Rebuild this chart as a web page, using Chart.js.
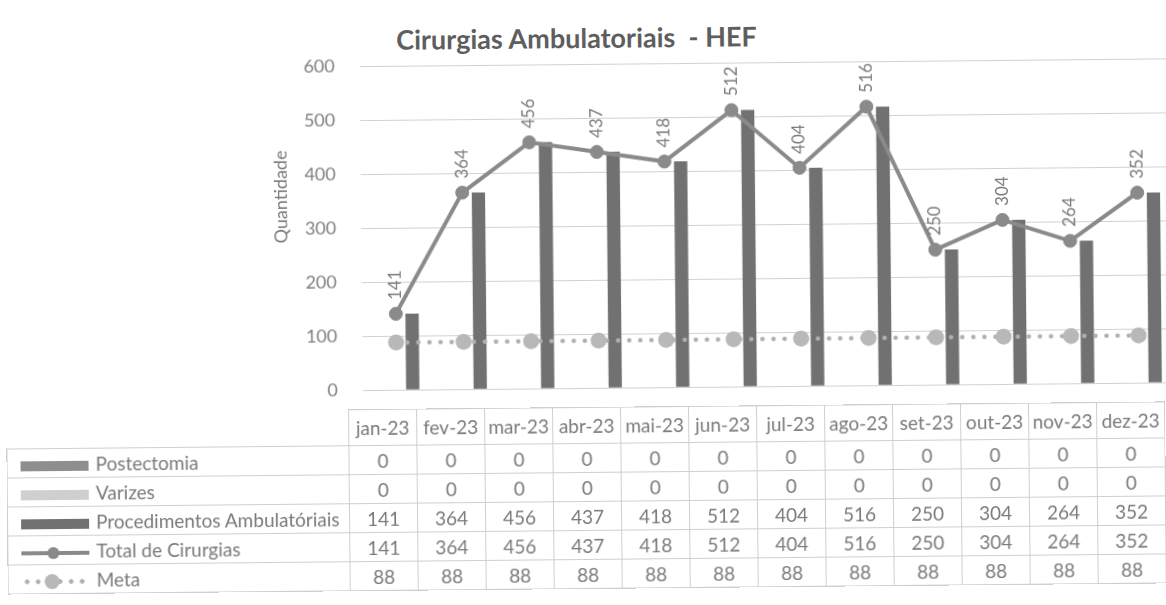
<!DOCTYPE html>
<html>
<head>
<meta charset="utf-8">
<script src="https://cdn.jsdelivr.net/npm/chart.js@4.4.1/dist/chart.umd.min.js"></script>
<style>
    body { margin: 0; width: 1166px; height: 605px; overflow: hidden; background: #fff; font-family: Lato, sans-serif; }
    #pagina { position: absolute; left: 0; top: 0; width: 1166px; height: 605px; transform: rotate(-0.55deg); transform-origin: 583px 302px; }
    #titulo { position: absolute; top: 21px; left: 329px; width: 500px; text-align: center; white-space: pre; font-size: 27px; font-weight: bold; color: #5e5e5e; }
    #eixo { position: absolute; left: 231px; top: 183px; width: 100px; text-align: center; transform: rotate(-90deg); font-size: 18px; color: #7a7a7a; }
    #cirurgias { position: absolute; left: 0; top: 0; }
    #tabela { position: absolute; left: 5px; top: 407px; border-collapse: collapse; table-layout: fixed; font-size: 19px; color: #7a7a7a; }
    #tabela td { border: 1px solid #cfcfcf; text-align: center; padding: 0; height: 28px; white-space: nowrap; }
    #tabela tr.cab td { height: 35px; }
    #tabela td.vazio { border: none; }
    #tabela td.nome { text-align: left; padding-left: 13px; }
    .chave { display: inline-block; width: 68px; height: 10px; margin-right: 7px; vertical-align: middle; position: relative; }
    .linha { height: 4px; background: #8a8a8a; }
    .linha i { position: absolute; left: 26px; top: -4px; width: 12px; height: 12px; border-radius: 50%; background: #8a8a8a; }
    .pontos { height: 5px; background: radial-gradient(circle, #b0b0b0 2px, transparent 2.5px) 0 0 / 11px 5px repeat-x; }
    .pontos i { position: absolute; left: 23px; top: -5px; width: 15px; height: 15px; border-radius: 50%; background: #b8b8b8; }
</style>
</head>
<body>
<div id="pagina">
    <div id="titulo">Cirurgias Ambulatoriais  - HEF</div>
    <canvas id="cirurgias" width="1180" height="424"></canvas>
    <div id="eixo">Quantidade</div>
    <table id="tabela"></table>
</div>
<script>
const meses = ['jan-23', 'fev-23', 'mar-23', 'abr-23', 'mai-23', 'jun-23', 'jul-23', 'ago-23', 'set-23', 'out-23', 'nov-23', 'dez-23'];
const postectomia = [0, 0, 0, 0, 0, 0, 0, 0, 0, 0, 0, 0];
const varizes = [0, 0, 0, 0, 0, 0, 0, 0, 0, 0, 0, 0];
const procedimentos = [141, 364, 456, 437, 418, 512, 404, 516, 250, 304, 264, 352];
const totalCirurgias = [141, 364, 456, 437, 418, 512, 404, 516, 250, 304, 264, 352];
const meta = [88, 88, 88, 88, 88, 88, 88, 88, 88, 88, 88, 88];
const yTicks = [0, 100, 200, 300, 400, 500, 600];

// rotulos verticais em cima da linha do total
const rotulos = {
    id: 'rotulos',
    afterDatasetsDraw(chart) {
        const ctx = chart.ctx;
        const pts = chart.getDatasetMeta(3).data;
        ctx.save();
        ctx.fillStyle = '#7a7a7a';
        ctx.font = '17px Lato';
        ctx.textAlign = 'left';
        ctx.textBaseline = 'middle';
        pts.forEach((p, i) => {
            ctx.save();
            ctx.translate(p.x, p.y - 14);
            ctx.rotate(-Math.PI / 2);
            ctx.fillText(String(totalCirurgias[i]), 0, 0);
            ctx.restore();
        });
        ctx.restore();
    }
};

new Chart(document.getElementById('cirurgias'), {
    type: 'bar',
    data: {
        labels: meses,
        datasets: [
            { label: 'Postectomia', data: postectomia, backgroundColor: '#8e8e8e', order: 1, categoryPercentage: 0.72, barPercentage: 0.82 },
            { label: 'Varizes', data: varizes, backgroundColor: '#cfcfcf', order: 1, categoryPercentage: 0.72, barPercentage: 0.82 },
            { label: 'Procedimentos Ambulatóriais', data: procedimentos, backgroundColor: '#717171', order: 1, categoryPercentage: 0.72, barPercentage: 0.82 },
            {
                type: 'line', label: 'Total de Cirurgias', data: totalCirurgias, order: 0,
                borderColor: '#8a8a8a', borderWidth: 4, tension: 0,
                pointRadius: 6.5, pointBackgroundColor: '#8a8a8a', pointBorderColor: '#8a8a8a', pointBorderWidth: 1
            },
            {
                type: 'line', label: 'Meta', data: meta, order: 0,
                borderColor: '#b0b0b0', borderWidth: 4.5, borderDash: [0.1, 11], borderCapStyle: 'round',
                pointRadius: 8, pointBackgroundColor: '#b8b8b8', pointBorderWidth: 0
            }
        ]
    },
    options: {
        responsive: false,
        animation: false,
        layout: { padding: { top: 64, left: 267, right: 7, bottom: 4 } },
        plugins: {
            legend: { display: false },
            tooltip: { enabled: false }
        },
        scales: {
            x: { display: false },
            y: {
                min: 0, max: 600,
                afterFit(scale) { scale.width = 95; },
                afterBuildTicks(scale) { scale.ticks = yTicks.map(v => ({ value: v })); },
                border: { display: false },
                grid: { color: '#d2d2d2', lineWidth: 1, drawTicks: false },
                ticks: { color: '#808080', font: { family: 'Lato', size: 18 }, padding: 25 }
            }
        }
    },
    plugins: [rotulos]
});

// tabela de dados em baixo do grafico
const linhas = [
    { nome: 'Postectomia', chave: '<span class="chave" style="background:#8e8e8e"></span>', valores: postectomia },
    { nome: 'Varizes', chave: '<span class="chave" style="background:#cfcfcf"></span>', valores: varizes },
    { nome: 'Procedimentos Ambulatóriais', chave: '<span class="chave" style="background:#717171"></span>', valores: procedimentos },
    { nome: 'Total de Cirurgias', chave: '<span class="chave linha"><i></i></span>', valores: totalCirurgias },
    { nome: 'Meta', chave: '<span class="chave pontos"><i></i></span>', valores: meta }
];

let html = '<colgroup><col style="width:342px">' + meses.map(() => '<col style="width:68px">').join('') + '</colgroup>';
html += '<tr class="cab"><td class="vazio"></td>' + meses.map(m => '<td>' + m + '</td>').join('') + '</tr>';
linhas.forEach(l => {
    html += '<tr><td class="nome">' + l.chave + l.nome + '</td>' + l.valores.map(v => '<td>' + v + '</td>').join('') + '</tr>';
});
document.getElementById('tabela').innerHTML = html;
</script>
</body>
</html>
